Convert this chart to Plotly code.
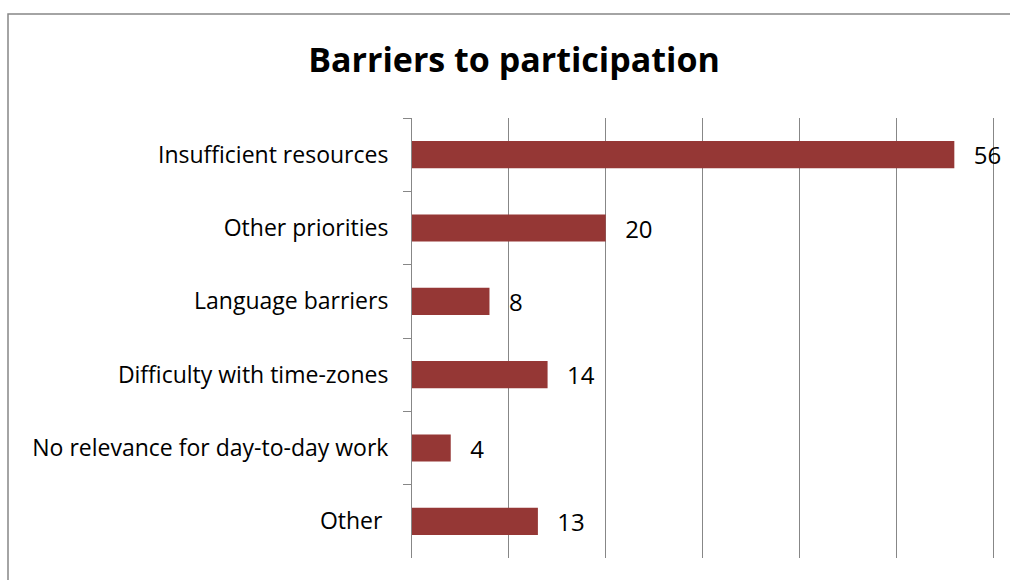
import plotly.graph_objects as go

categories = ["Insufficient resources", "Other priorities", "Language barriers",
              "Difficulty with time-zones", "No relevance for day-to-day work", "Other\u00a0"]
values = [56, 20, 8, 14, 4, 13]
title_text = "Barriers to participation"

BAR_COLOR = "#953735"
GRID = "#878787"
FONT = "Open Sans, Liberation Sans, Arial, sans-serif"

W, H = 1010, 580
L, R, T, B = 412, 15, 118, 22
pw, ph = W - L - R, H - T - B

fig = go.Figure()
fig.add_trace(go.Bar(
    y=categories, x=values, orientation="h",
    marker=dict(color=BAR_COLOR, line=dict(width=0)),
    text=values,
    texttemplate="\u00a0\u00a0\u2009%{x}",
    textposition="outside",
    constraintext="none",
    textfont=dict(family=FONT, size=24, color="#000000"),
    cliponaxis=False,
    hoverinfo="x+y",
))

# chart border (extends past right/bottom edges as in reference)
fig.add_shape(type="rect", xref="paper", yref="paper",
              x0=(8 - L) / pw, x1=(W + 10 - L) / pw,
              y0=(H - B - (H + 10)) / ph, y1=(H - B - 14) / ph,
              line=dict(color=GRID, width=1.5), fillcolor="rgba(0,0,0,0)", layer="below")

fig.update_layout(
    width=W, height=H,
    margin=dict(l=L, r=R, t=T, b=B, autoexpand=False),
    paper_bgcolor="white", plot_bgcolor="white",
    bargap=0.63,
    showlegend=False,
    title=dict(text="<b>" + title_text + "</b>", x=514 / W, xref="container", xanchor="center",
               y=1 - 60 / H, yref="container", yanchor="middle",
               font=dict(family=FONT, size=34, color="#000000")),
    xaxis=dict(range=[0, 60.2], dtick=10, tick0=0, showgrid=True, gridcolor=GRID, gridwidth=1,
               showticklabels=False, zeroline=False, showline=False, ticks=""),
    yaxis=dict(autorange="reversed", showline=True, linecolor=GRID, linewidth=1,
               ticks="outside", ticklen=8, tickcolor=GRID, tickwidth=1,
               tickson="boundaries", showgrid=False,
               ticklabelstandoff=18,
               tickfont=dict(family=FONT, size=23, color="#000000")),
)

fig.write_html("out.html", config={"displayModeBar": False},
               post_script="document.body.style.margin='0';")
